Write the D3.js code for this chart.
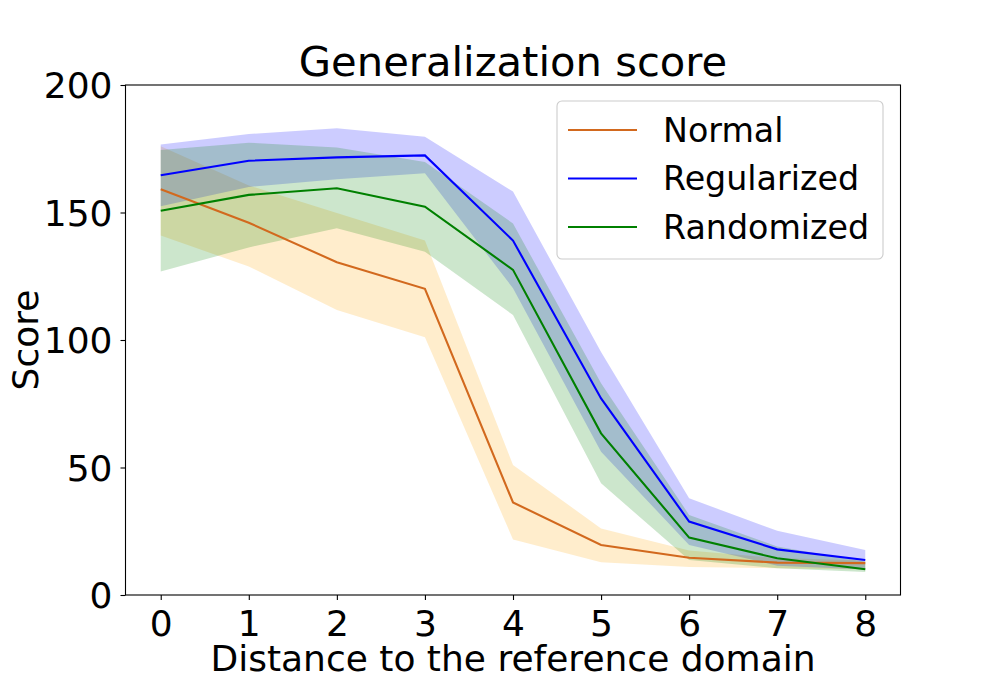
<!DOCTYPE html>
<html>
<head>
<meta charset="utf-8">
<script src="https://cdn.jsdelivr.net/npm/d3@7"></script>
<style>
  body { margin: 0; background: #fff; }
  #chart { width: 1000px; height: 700px; }
  text { font-family: "DejaVu Sans", sans-serif; }
</style>
</head>
<body>
<div id="chart"></div>
<script>
// distances to the reference domain
let distances = [0, 1, 2, 3, 4, 5, 6, 7, 8];
let yTicks = [0, 50, 100, 150, 200];

let seriesNames = ["Normal", "Regularized", "Randomized"];

let normalMean  = [159.1, 146.0, 130.5, 120.1, 36.3, 19.6, 14.6, 12.7, 12.5];
let normalUpper = [176.0, 160.6, 149.8, 139.0, 51.0, 26.1, 17.5, 14.5, 13.5];
let normalLower = [141.0, 128.8, 111.8, 101.1, 21.8, 12.8, 11.0, 10.5, 10.0];

let regMean  = [164.6, 170.3, 171.6, 172.4, 139.0, 77.1, 28.8, 17.9, 13.7];
let regUpper = [176.7, 180.8, 183.0, 179.7, 158.2, 95.3, 37.9, 25.2, 17.6];
let regLower = [152.5, 160.0, 163.0, 165.4, 120.3, 56.2, 19.6, 11.5, 10.0];

let randMean  = [150.7, 156.9, 159.5, 152.3, 127.5, 63.4, 22.5, 14.4, 10.1];
let randUpper = [174.5, 177.4, 175.5, 169.8, 145.7, 83.0, 31.4, 19.0, 13.0];
let randLower = [126.9, 136.3, 143.8, 134.6, 109.8, 43.8, 13.7, 10.5, 9.0];

let drawChart = function() {
    let w = 1000, h = 700;
    let margin = {left: 125.5, right: 99.5, top: 85, bottom: 105};

    let svg = d3.select("#chart")
      .append("svg")
        .attr("width", w)
        .attr("height", h);

    let x = d3.scaleLinear()
        .domain([-0.4, 8.4])
        .range([margin.left, w - margin.right]);
    let y = d3.scaleLinear()
        .domain([0, 200])
        .range([h - margin.bottom, margin.top]);

    let series = [
        {name: seriesNames[0], mean: normalMean, up: normalUpper, lo: normalLower, line: "#d2691e", fill: "orange"},
        {name: seriesNames[1], mean: regMean, up: regUpper, lo: regLower, line: "blue", fill: "blue"},
        {name: seriesNames[2], mean: randMean, up: randUpper, lo: randLower, line: "green", fill: "green"}
    ];

    let area = d3.area()
        .x(function(d) { return x(d.x); })
        .y0(function(d) { return y(d.lo); })
        .y1(function(d) { return y(d.up); });
    let line = d3.line()
        .x(function(d) { return x(d.x); })
        .y(function(d) { return y(d.v); });

    series.forEach(function(s) {
        let pts = distances.map(function(d, i) { return {x: d, lo: s.lo[i], up: s.up[i]}; });
        svg.append("path")
            .attr("d", area(pts))
            .attr("fill", s.fill)
            .attr("fill-opacity", 0.2);
    });
    series.forEach(function(s) {
        let pts = distances.map(function(d, i) { return {x: d, v: s.mean[i]}; });
        svg.append("path")
            .attr("d", line(pts))
            .attr("fill", "none")
            .attr("stroke", s.line)
            .attr("stroke-width", 2.1);
    });

    // axes
    let xAxis = svg.append("g")
        .attr("transform", "translate(0," + (h - margin.bottom) + ")")
        .call(d3.axisBottom(x).tickValues(distances).tickSize(5).tickPadding(8).tickFormat(d3.format("d")));
    let yAxis = svg.append("g")
        .attr("transform", "translate(" + margin.left + ",0)")
        .call(d3.axisLeft(y).tickValues(yTicks).tickSize(5).tickPadding(8));
    [xAxis, yAxis].forEach(function(a) {
        a.select(".domain").remove();
        a.selectAll(".tick line").attr("stroke", "black").attr("stroke-width", 1.1);
        a.selectAll(".tick text")
            .attr("fill", "black")
            .attr("font-size", 36)
            .attr("font-family", "DejaVu Sans, sans-serif");
    });
    xAxis.selectAll(".tick text").attr("dy", "0.78em");
    yAxis.selectAll(".tick text").attr("dy", "0.36em");

    svg.append("rect")
        .attr("x", margin.left)
        .attr("y", margin.top)
        .attr("width", w - margin.left - margin.right)
        .attr("height", h - margin.top - margin.bottom)
        .attr("fill", "none")
        .attr("stroke", "black")
        .attr("stroke-width", 1.1);

    // title and labels
    svg.append("text")
        .attr("x", (margin.left + w - margin.right) / 2)
        .attr("y", 76)
        .attr("text-anchor", "middle")
        .attr("font-size", 41.7)
        .text("Generalization score");
    svg.append("text")
        .attr("x", (margin.left + w - margin.right) / 2)
        .attr("y", 671)
        .attr("text-anchor", "middle")
        .attr("font-size", 36)
        .text("Distance to the reference domain");
    svg.append("text")
        .attr("transform", "translate(38," + (margin.top + h - margin.bottom) / 2 + ") rotate(-90)")
        .attr("text-anchor", "middle")
        .attr("font-size", 36)
        .text("Score");

    // legend
    let lg = svg.append("g");
    lg.append("rect")
        .attr("x", 557)
        .attr("y", 101)
        .attr("width", 326)
        .attr("height", 158)
        .attr("rx", 5)
        .attr("fill", "white")
        .attr("fill-opacity", 0.8)
        .attr("stroke", "#cccccc")
        .attr("stroke-width", 1.1);
    series.forEach(function(s, i) {
        let cy = 130 + i * 48.5;
        lg.append("line")
            .attr("x1", 568).attr("x2", 637)
            .attr("y1", cy).attr("y2", cy)
            .attr("stroke", s.line)
            .attr("stroke-width", 2.1);
        lg.append("text")
            .attr("x", 663)
            .attr("y", cy)
            .attr("dy", "0.36em")
            .attr("font-size", 33.3)
            .text(s.name);
    });
};

drawChart();
</script>
</body>
</html>
